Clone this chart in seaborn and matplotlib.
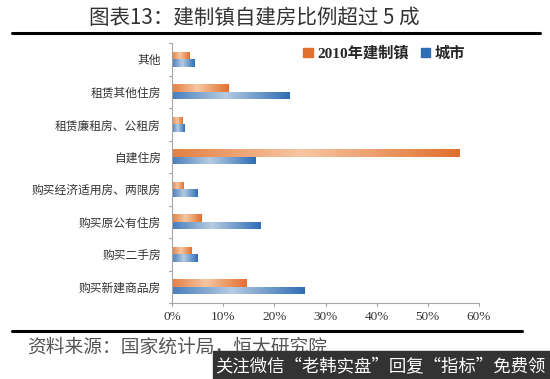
import matplotlib
matplotlib.use("Agg")
import matplotlib.pyplot as plt
import numpy as np
import pandas as pd
import seaborn as sns
from matplotlib.colors import LinearSegmentedColormap
from matplotlib.lines import Line2D
from matplotlib.patches import Rectangle

sns.set_style("white")
plt.rcParams["font.family"] = ["Noto Sans CJK SC", "DejaVu Sans"]

categories = [
    "其他",
    "租赁其他住房",
    "租赁廉租房、公租房",
    "自建住房",
    "购买经济适用房、两限房",
    "购买原公有住房",
    "购买二手房",
    "购买新建商品房",
]
town = [3.4, 11.0, 2.0, 56.2, 2.3, 5.7, 3.9, 14.6]
city = [4.3, 23.0, 2.5, 16.3, 4.9, 17.3, 4.9, 25.9]
series = ["2010年建制镇", "城市"]
colors = ["#E0702E", "#2F6DB5"]
light = ["#F6C6A2", "#B5CBE2"]
xticks = [0, 10, 20, 30, 40, 50, 60]

df = pd.DataFrame(
    {
        "cat": categories * 2,
        "val": town + city,
        "series": [series[0]] * len(categories) + [series[1]] * len(categories),
    }
)

fig = plt.figure(figsize=(5.5, 3.79), dpi=100)
ax = fig.add_axes([172 / 550, 1 - 303 / 379, 307 / 550, 260 / 379])
sns.barplot(
    data=df, x="val", y="cat", hue="series", order=categories,
    palette=colors, width=0.45, ax=ax, saturation=1, legend=False,
)

ax.set_xlim(0, 60)
ax.set_ylim(len(categories) - 0.5, -0.5)

# gradient fill on every bar (dark ends, light middle), clipped to the bar
grad = np.linspace(0, 1, 256)
grad = np.abs(grad - 0.45) / 0.55
grad = grad.reshape(1, -1)
for patch in ax.patches:
    fc = patch.get_facecolor()
    idx = 0 if abs(fc[0] - matplotlib.colors.to_rgba(colors[0])[0]) < 0.05 else 1
    cmap = LinearSegmentedColormap.from_list("g", [light[idx], colors[idx]])
    x0, y0 = patch.get_x(), patch.get_y()
    w, h = patch.get_width(), patch.get_height()
    if w <= 0:
        continue
    im = ax.imshow(grad, cmap=cmap, aspect="auto", vmin=0, vmax=1,
                   extent=[x0, x0 + w, y0 + h, y0], zorder=patch.get_zorder() + 0.1)
    im.set_clip_path(patch)
ax.set_xlim(0, 60)
ax.set_ylim(len(categories) - 0.5, -0.5)

ax.set_xticks(xticks)
ax.set_xticklabels([f"{t}%" for t in xticks], fontsize=9.5, color="#333333",
                   family="Liberation Serif")
ax.set_yticks(range(len(categories)))
ax.set_yticklabels(categories, fontsize=8.5, color="#333333")
ax.tick_params(axis="y", length=0, pad=8)
ax.tick_params(axis="x", length=0, pad=6)
ax.set_xlabel("")
ax.set_ylabel("")
for s in ["top", "right"]:
    ax.spines[s].set_visible(False)
for s in ["left", "bottom"]:
    ax.spines[s].set_color("#A6A6A6")
    ax.spines[s].set_linewidth(0.8)

# category separator ticks on the y axis and tick marks on the x axis
for i in range(len(categories) + 1):
    ax.plot([-0.6, 0], [i - 0.5, i - 0.5], color="#A6A6A6", lw=0.8, clip_on=False)
for t in xticks:
    ax.plot([t, t], [len(categories) - 0.5, len(categories) - 0.5 + 0.1],
            color="#A6A6A6", lw=0.8, clip_on=False)

handles = [Rectangle((0, 0), 1, 1, color=c) for c in colors]
ax.legend(handles, series, loc="upper right", bbox_to_anchor=(1.0, 1.04),
          ncol=2, frameon=False, handlelength=0.6, handleheight=0.6,
          handletextpad=0.3, columnspacing=0.8,
          prop={"family": ["Liberation Serif", "Noto Sans CJK SC"],
                "weight": "bold", "size": 11})

fig.text(254 / 550, 1 - 18 / 379, "图表13：建制镇自建房比例超过 5 成",
         ha="center", va="center", fontsize=14.8, color="#333333")
fig.add_artist(Line2D([12 / 550, 540 / 550], [1 - 33 / 379] * 2,
                      color="black", lw=2.2))
fig.add_artist(Line2D([12 / 550, 522 / 550], [1 - 331 / 379] * 2,
                      color="black", lw=2.2))
fig.text(27 / 550, 1 - 347 / 379, "资料来源：国家统计局，恒大研究院",
         ha="left", va="center", fontsize=13.5, color="#555555", style="italic")

# watermark strip at the bottom
fig.add_artist(Rectangle((213 / 550, 0), 337 / 550, 28 / 379,
                         transform=fig.transFigure, color="#333333", zorder=5))
fig.text(380 / 550, 13 / 379, "关注微信“老韩实盘”回复“指标”免费领",
         ha="center", va="center", fontsize=12.5, color="white", zorder=6)

fig.savefig("out.png", dpi=100)
